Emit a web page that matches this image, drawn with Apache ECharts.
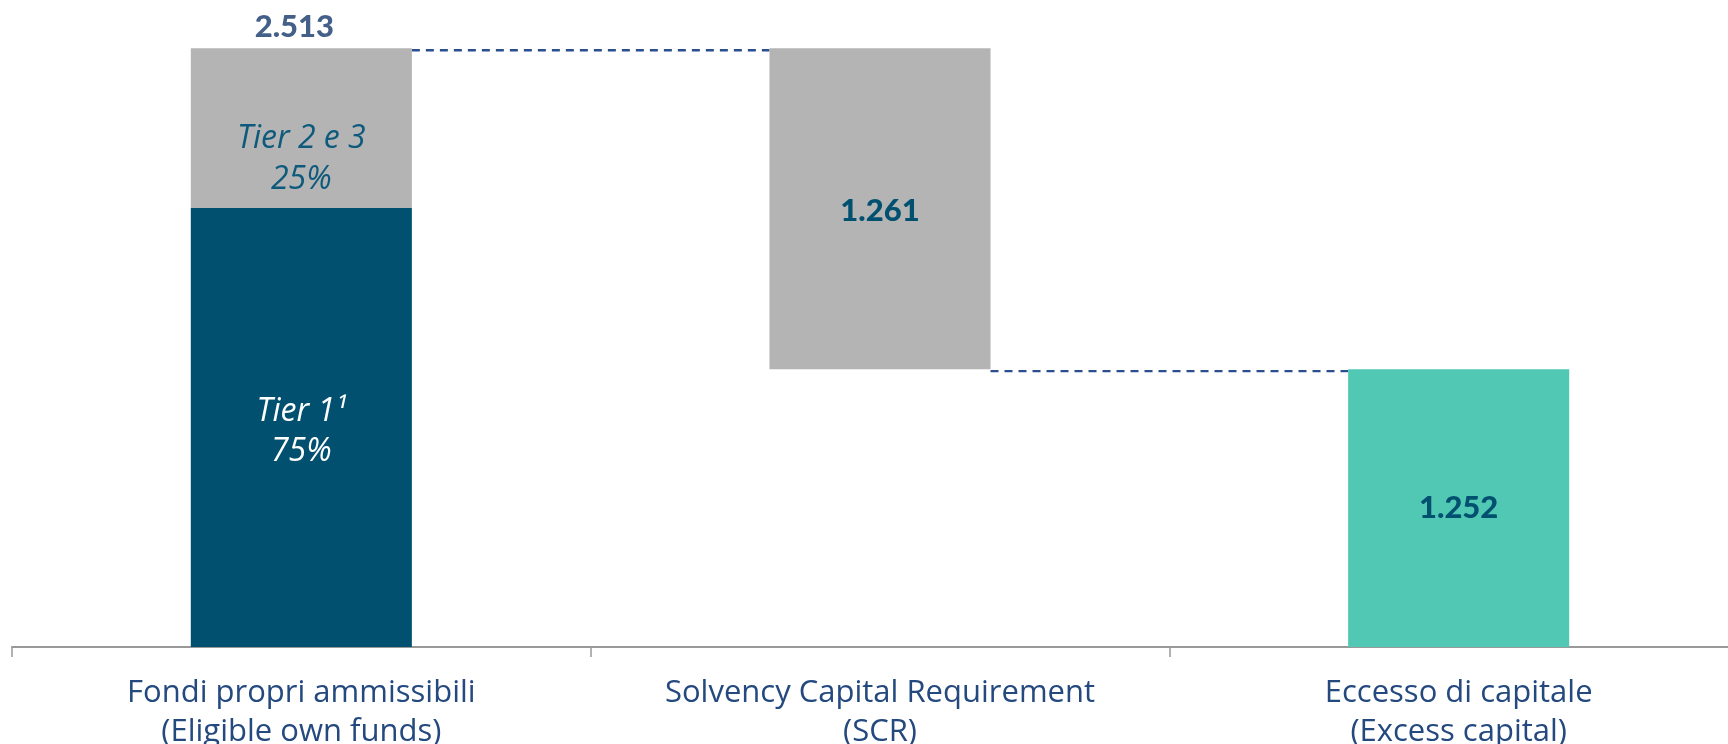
<!DOCTYPE html>
<html>
<head>
<meta charset="utf-8">
<script src="https://cdn.jsdelivr.net/npm/echarts@6/dist/echarts.min.js"></script>
<style>
html,body{margin:0;padding:0;background:#fff;}
#c{width:1728px;height:744px;}
</style>
</head>
<body>
<div id="c"></div>
<script>
// ---- data ----
var categories = ['Fondi propri ammissibili\n(Eligible own funds)', 'Solvency Capital Requirement\n(SCR)', 'Eccesso di capitale\n(Excess capital)'];
var totalOwnFunds = 2513;
var tier1 = [1885, '-', '-'];
var tier23 = [628, '-', '-'];
var scr = ['-', 1261, '-'];
var excess = ['-', '-', 1252];
var base = [0, 1252, 0];
var tierLabels = ['Tier 1¹\n75%', 'Tier 2 e 3\n25%'];
var valueLabels = ['2.513', '1.261', '1.252'];
var connectors = [[0, 1, 2513], [1, 2, 1252]];

var BAR_RATIO = 0.382;
var numFont = 'Lato';
var txtFont = 'Open Sans';

var chart = echarts.init(document.getElementById('c'), null, {renderer: 'canvas'});
chart.setOption({
  animation: false,
  grid: {left: 12, right: -20, top: 46.5, bottom: 97, containLabel: false, outerBoundsMode: 'none'},
  xAxis: {
    type: 'category',
    data: categories,
    axisLine: {lineStyle: {color: '#999999', width: 2}},
    axisTick: {show: true, length: 10, lineStyle: {color: '#999999', width: 1.5}},
    axisLabel: {
      color: '#24497f', fontFamily: txtFont, fontSize: 31, lineHeight: 39,
      margin: 27, interval: 0
    }
  },
  yAxis: {type: 'value', min: 160, max: 2520, show: false, splitLine: {show: false}},
  series: [
    {type: 'bar', stack: 'w', data: base, barWidth: (BAR_RATIO * 100) + '%',
     itemStyle: {color: 'transparent'}, silent: true},
    {type: 'bar', stack: 'w', data: tier1, itemStyle: {color: '#02506F'},
     label: {show: true, position: 'inside', formatter: tierLabels[0], color: '#ffffff',
       fontFamily: txtFont, fontStyle: 'italic', fontSize: 32, lineHeight: 40, offset: [0, 4]}},
    {type: 'bar', stack: 'w', data: tier23, itemStyle: {color: '#B3B4B3'},
     label: {show: true, position: 'inside', formatter: tierLabels[1], color: '#0E5A7D',
       fontFamily: txtFont, fontStyle: 'italic', fontSize: 32, lineHeight: 41, offset: [0, 31]}},
    {type: 'bar', stack: 'w', data: scr, itemStyle: {color: '#B3B4B3'},
     label: {show: true, position: 'inside', formatter: valueLabels[1], color: '#02506F',
       fontFamily: numFont, fontWeight: 900, fontSize: 31, offset: [0, 2]}},
    {type: 'bar', stack: 'w', data: excess, itemStyle: {color: '#50C8B4'},
     label: {show: true, position: 'inside', formatter: valueLabels[2], color: '#02506F',
       fontFamily: numFont, fontWeight: 900, fontSize: 31}},
    {type: 'scatter', data: [[0, totalOwnFunds]], symbolSize: 0, silent: true,
     label: {show: true, position: 'top', distance: 6, offset: [-7, 0], formatter: valueLabels[0], color: '#17386A',
       fontFamily: numFont, fontWeight: 900, fontSize: 31}},
    {type: 'custom', data: connectors, encode: {x: 0, y: 2}, silent: true, z: 1,
     renderItem: function (params, api) {
       var p0 = api.coord([api.value(0), api.value(2)]);
       var p1 = api.coord([api.value(1), api.value(2)]);
       var half = api.size([1, 0])[0] * BAR_RATIO / 2;
       return {
         type: 'line',
         shape: {x1: p0[0] + half, y1: p0[1] + 2, x2: p1[0] - half, y2: p1[1] + 2},
         style: {stroke: '#2B4F8E', lineWidth: 2.4, lineDash: [8, 6]}
       };
     }}
  ]
});
</script>
</body>
</html>
